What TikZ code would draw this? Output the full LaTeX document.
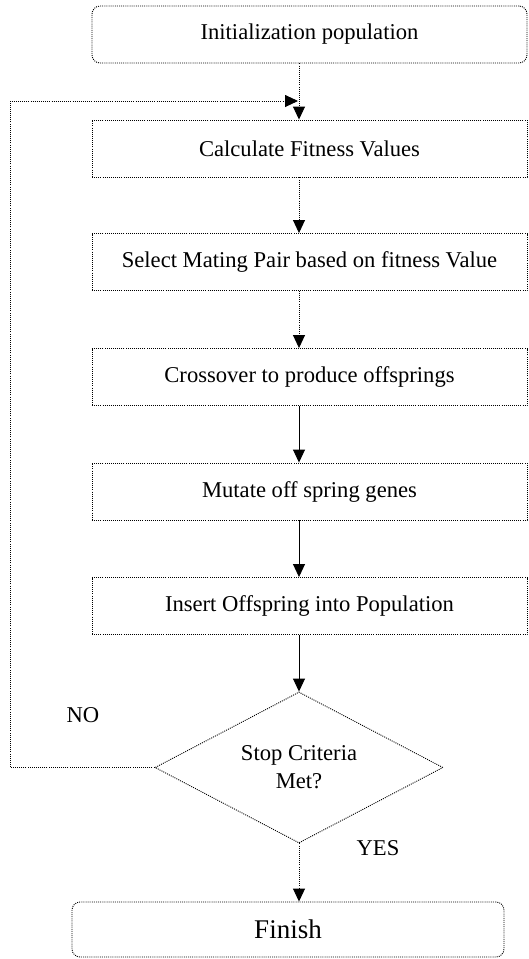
\documentclass[tikz,border=0pt]{standalone}
\usepackage{fontspec}
\setmainfont{Liberation Serif}
\usetikzlibrary{shapes.geometric,arrows.meta}
\tikzset{
  dots/.style={line width=0.9pt, dash pattern=on 1pt off 1.1pt},
  stepbox/.style={draw, dots, minimum width=435pt, minimum height=57pt, inner sep=0pt,
    font=\fontsize{22.6}{28}\selectfont},
  endbox/.style={stepbox, rounded corners=8pt},
  testbox/.style={draw, dots, diamond, aspect=1.907, minimum width=288pt, minimum height=151pt,
    inner sep=0pt, align=center, font=\fontsize{22.6}{28}\selectfont},
  tip/.style={-{Triangle[length=13pt,width=12pt]}},
  flow/.style={tip, dots},
  solidflow/.style={tip, line width=0.9pt},
  lbl/.style={font=\fontsize{22.6}{28}\selectfont}
}
\begin{document}
\begin{tikzpicture}[x=1pt,y=-1pt]
	\useasboundingbox (0,0) rectangle (528,959);
	
	% Boxes
	\node[endbox] (init) at (309.5, 34.5) {Initialization population};
	\node[stepbox] (fit) at (309.5, 148.5) {Calculate Fitness Values};
	\node[stepbox] (select) at (309.5, 262) {Select Mating Pair based on fitness Value};
	\node[stepbox] (cross) at (309.5, 377) {Crossover to produce offsprings};
	\node[stepbox] (mutate) at (309.5, 491.5) {Mutate off spring genes};
	\node[stepbox] (insert) at (309.5, 606) {Insert Offspring into Population};
	
	% Decision
	\node[testbox] (stop) at (299, 767.5) {Stop Criteria\\Met?};
	\node[lbl] (no) at (83, 715) {NO};
	\node[lbl] (yes) at (378, 848) {YES};
	
	% Finish
	\node[endbox, minimum width=432pt, minimum height=55pt, font=\fontsize{27}{32}\selectfont] (finish) at (288, 929.5) {Finish};
	
	% Down arrows
	\draw[flow] (init.south -| stop.north) -- (fit.north -| stop.north);
	\draw[flow] (fit.south -| stop.north) -- (select.north -| stop.north);
	\draw[flow] (select.south -| stop.north) -- (cross.north -| stop.north);
	\draw[solidflow] (cross.south -| stop.north) -- (mutate.north -| stop.north);
	\draw[solidflow] (mutate.south -| stop.north) -- (insert.north -| stop.north);
	\draw[solidflow] (insert.south -| stop.north) -- (stop.north);
	\draw[flow] (stop.south) -- (finish.north -| stop.south);
	
	% Loop back
	\coordinate (back) at (10, 101);
	\coordinate (join) at (298, 101);
	\draw[flow] (stop.west) -| (back) -- (join);
\end{tikzpicture}
\end{document}
